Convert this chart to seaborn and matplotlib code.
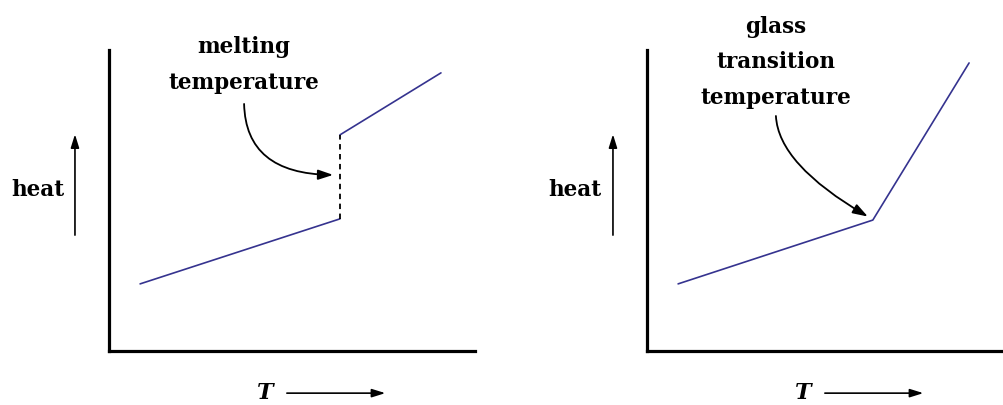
import matplotlib
matplotlib.use("Agg")
import matplotlib.pyplot as plt
import seaborn as sns

# schematic coordinates (arbitrary units, 0..10 on each axis)
melt_low_T = [0.85, 6.31]
melt_low_H = [2.23, 4.39]
melt_high_T = [6.31, 9.07]
melt_high_H = [7.18, 9.24]
melt_jump_T = [6.31, 6.31]
melt_jump_H = [4.39, 7.18]

glass_T = [0.85, 6.17, 8.80]
glass_H = [2.23, 4.35, 9.57]

line_col = "#35338f"

sns.set_style("white")
plt.rcParams["font.family"] = ["DejaVu Serif"]
plt.rcParams["text.color"] = "black"

fig = plt.figure(figsize=(10.04, 4.05), dpi=100)
ax1 = fig.add_axes([109 / 1004, 54 / 405, 366 / 1004, 301 / 405])
ax2 = fig.add_axes([647 / 1004, 54 / 405, 366 / 1004, 301 / 405])

for ax in (ax1, ax2):
    ax.set_xlim(0, 10)
    ax.set_ylim(0, 10)
    ax.set_xticks([])
    ax.set_yticks([])
    for s in ("top", "right"):
        ax.spines[s].set_visible(False)
    for s in ("left", "bottom"):
        ax.spines[s].set_linewidth(2.3)
        ax.spines[s].set_color("black")
    ax.patch.set_alpha(0)

# left: melting
sns.lineplot(x=melt_low_T, y=melt_low_H, ax=ax1, color=line_col, lw=1.2, sort=False, estimator=None)
sns.lineplot(x=melt_high_T, y=melt_high_H, ax=ax1, color=line_col, lw=1.2, sort=False, estimator=None)
sns.lineplot(x=melt_jump_T, y=melt_jump_H, ax=ax1, color="black", lw=1.3, sort=False, estimator=None,
             dashes=False, linestyle=(0, (3, 2.5)))

# right: glass transition
sns.lineplot(x=glass_T, y=glass_H, ax=ax2, color=line_col, lw=1.2, sort=False, estimator=None)

txt = dict(fontsize=15.5, fontweight="bold", ha="center", va="center", color="black")
head = "-|>,head_length=0.8,head_width=0.25"
curve_head = "-|>,head_length=0.9,head_width=0.3"

ax1.text(3.69, 10.1, "melting", **txt, clip_on=False)
ax1.text(3.69, 8.9, "temperature", **txt, clip_on=False)
ax1.annotate("", xy=(6.2, 5.85), xytext=(3.69, 8.3),
             arrowprops=dict(arrowstyle=curve_head, color="black", lw=1.3,
                             connectionstyle="angle3,angleA=90,angleB=0"))

ax2.text(3.52, 10.75, "glass", **txt, clip_on=False)
ax2.text(3.52, 9.6, "transition", **txt, clip_on=False)
ax2.text(3.52, 8.4, "temperature", **txt, clip_on=False)
ax2.annotate("", xy=(6.1, 4.42), xytext=(3.52, 7.9),
             arrowprops=dict(arrowstyle=curve_head, color="black", lw=1.3,
                             connectionstyle="angle3,angleA=90,angleB=-30"))

# axis labels with arrows
for ax, hx, ax_x in ((ax1, -1.93, -0.93), (ax2, -1.97, -0.93)):
    ax.text(hx, 5.35, "heat", **txt, clip_on=False)
    ax.annotate("", xy=(ax_x, 7.2), xytext=(ax_x, 3.85), annotation_clip=False,
                arrowprops=dict(arrowstyle=head, color="black", lw=1.2, shrinkA=0, shrinkB=0))
    ax.text(4.26, -1.40, "T", fontsize=16, fontweight="bold", style="italic",
            ha="center", va="center", color="black", clip_on=False)
    ax.annotate("", xy=(7.55, -1.40), xytext=(4.86, -1.40), annotation_clip=False,
                arrowprops=dict(arrowstyle=head, color="black", lw=1.2, shrinkA=0, shrinkB=0))

fig.savefig("out.png", dpi=100)
